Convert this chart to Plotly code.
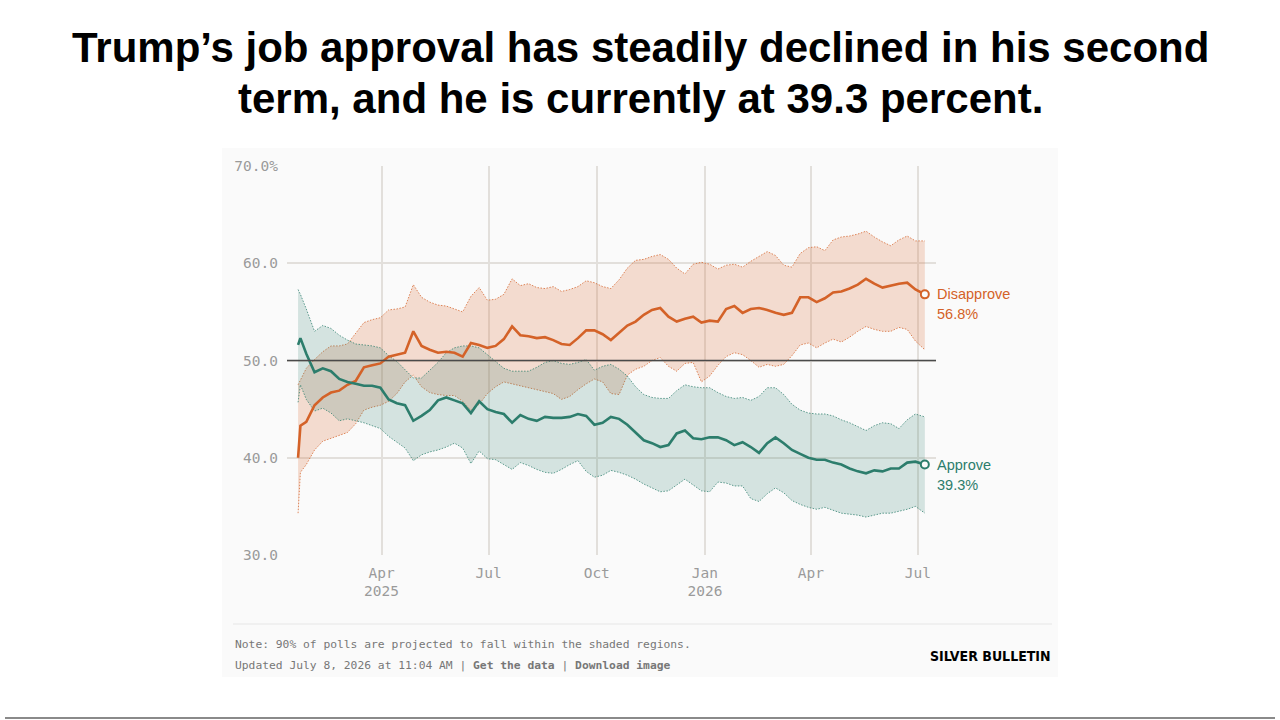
import pandas as pd
import plotly.graph_objects as go

# ---------------- data ----------------
weekly = pd.date_range("2025-01-20", periods=76, freq="7D")
dates = [weekly[0], pd.Timestamp("2025-01-22")] + list(weekly[1:]) + [pd.Timestamp("2026-07-07")]

disapprove = [40.0, 43.3, 43.7, 45.4, 46.2, 46.7, 46.9, 47.5, 47.9, 49.3, 49.5,
              49.7, 50.4, 50.6, 50.8, 53.0, 51.5, 51.1, 50.8, 50.9, 50.8,
              50.4, 51.8, 51.6, 51.3, 51.5, 52.2, 53.5, 52.6, 52.5, 52.3,
              52.4, 52.1, 51.7, 51.6, 52.3, 53.1, 53.1, 52.7, 52.1, 52.8,
              53.6, 54.0, 54.7, 55.2, 55.4, 54.5, 54.0, 54.3, 54.5, 53.9,
              54.1, 54.0, 55.3, 55.6, 54.9, 55.3, 55.4, 55.2, 54.9, 54.7,
              54.9, 56.5, 56.5, 56.0, 56.4, 57.0, 57.1, 57.4, 57.8, 58.4,
              57.9, 57.5, 57.7, 57.9, 58.0, 57.3, 56.8]
disapprove_hi = [47.5, 48.0, 49.2, 50.1, 50.9, 51.5, 51.5, 51.7, 52.8, 53.9, 54.2,
                 54.4, 55.2, 55.3, 55.5, 57.8, 56.5, 56.0, 55.7, 55.6, 55.3,
                 55.0, 56.6, 57.5, 56.2, 56.3, 56.8, 58.4, 57.7, 57.9, 57.5,
                 57.4, 57.6, 57.1, 57.3, 57.6, 58.2, 58.0, 57.6, 57.4, 58.3,
                 59.5, 60.3, 60.4, 60.7, 60.9, 60.4, 59.5, 58.9, 59.9, 60.1,
                 59.9, 59.4, 59.8, 59.9, 59.6, 60.2, 60.7, 61.2, 60.8, 59.8,
                 59.6, 61.0, 61.6, 61.7, 61.3, 62.4, 62.7, 62.8, 63.0, 63.3,
                 62.7, 62.2, 61.8, 62.4, 62.8, 62.3, 62.3]
disapprove_lo = [34.3, 38.5, 39.3, 40.8, 41.7, 42.0, 42.3, 42.6, 43.5, 44.9, 45.2,
                 45.4, 45.8, 46.6, 47.8, 48.5, 47.3, 46.7, 46.5, 46.4, 46.4,
                 45.8, 44.9, 45.5, 46.6, 47.3, 47.8, 47.6, 47.4, 47.2, 47.0,
                 46.8, 46.6, 46.0, 46.3, 47.0, 47.6, 48.1, 47.8, 46.6, 46.5,
                 48.5, 49.1, 49.4, 50.0, 50.3, 49.4, 48.9, 49.7, 49.8, 47.8,
                 48.4, 49.5, 50.4, 50.8, 50.6, 50.0, 49.3, 49.6, 49.4, 49.6,
                 50.5, 51.6, 51.8, 51.3, 51.8, 52.2, 51.9, 52.4, 53.0, 53.5,
                 53.2, 53.0, 53.0, 53.4, 53.2, 52.0, 51.1]
approve = [51.6, 52.3, 50.7, 48.8, 49.2, 48.9, 48.1, 47.8, 47.6, 47.4, 47.4,
           47.2, 46.0, 45.6, 45.4, 43.8, 44.3, 44.9, 45.9, 46.2, 45.9,
           45.6, 44.6, 45.8, 45.0, 44.7, 44.5, 43.6, 44.4, 44.0, 43.8,
           44.2, 44.1, 44.1, 44.2, 44.5, 44.3, 43.4, 43.6, 44.2, 44.0,
           43.4, 42.6, 41.8, 41.5, 41.1, 41.3, 42.5, 42.8, 42.0, 41.9,
           42.1, 42.1, 41.8, 41.3, 41.6, 41.1, 40.5, 41.5, 42.1, 41.5,
           40.8, 40.4, 40.0, 39.8, 39.8, 39.5, 39.3, 38.9, 38.6, 38.4,
           38.7, 38.6, 38.9, 38.9, 39.5, 39.6, 39.3]
approve_hi = [57.3, 56.8, 55.3, 53.0, 53.6, 53.3, 52.6, 52.1, 51.7, 51.6, 51.5,
              51.3, 50.5, 49.9, 49.0, 48.2, 48.2, 49.0, 49.8, 50.8, 51.3,
              51.5, 51.5, 51.3, 50.6, 49.9, 49.2, 48.9, 48.9, 48.9, 49.3,
              49.8, 50.0, 49.7, 49.6, 49.8, 50.1, 49.0, 49.4, 49.6, 49.1,
              48.4, 47.3, 46.5, 46.2, 46.1, 46.1, 46.9, 47.5, 47.3, 47.2,
              47.2, 46.7, 46.3, 46.1, 46.2, 45.9, 46.3, 47.2, 47.2, 46.5,
              45.5, 44.9, 44.6, 44.5, 44.5, 44.3, 43.9, 43.6, 43.2, 42.8,
              43.3, 43.6, 43.5, 43.0, 43.9, 44.5, 44.2]
approve_lo = [45.7, 47.5, 46.0, 44.8, 45.1, 44.6, 43.8, 44.0, 43.8, 43.6, 43.3,
              43.0, 42.2, 41.6, 41.0, 39.7, 40.3, 40.6, 40.8, 41.1, 41.5,
              41.0, 39.4, 40.7, 39.9, 39.8, 39.3, 38.8, 39.5, 39.2, 38.8,
              38.5, 38.4, 38.8, 39.3, 39.7, 38.6, 38.0, 38.2, 38.7, 38.5,
              38.2, 37.8, 37.3, 36.9, 36.5, 36.6, 37.2, 37.8, 37.2, 36.6,
              36.5, 37.5, 37.4, 37.1, 37.1, 35.8, 35.5, 36.3, 36.9, 36.4,
              35.6, 35.2, 34.9, 34.7, 34.9, 34.6, 34.3, 34.2, 34.1, 33.9,
              34.1, 34.3, 34.3, 34.5, 34.7, 35.0, 34.3]

tick_dates = ["2025-04-01", "2025-07-01", "2025-10-01", "2026-01-01", "2026-04-01", "2026-07-01"]
tick_text = ["Apr<br>2025", "Jul", "Oct", "Jan<br>2026", "Apr", "Jul"]
y_ticks = [30, 40, 50, 60, 70]
y_text = ["30.0", "40.0", "50.0", "60.0", "70.0%"]

title_lines = ["Trump\u2019s job approval has steadily declined in his second",
               "term, and he is currently at 39.3 percent."]

# ---------------- style ----------------
ORANGE = "rgb(212,98,40)"
TEAL = "rgb(44,125,108)"
ORANGE_FILL = "rgba(218,110,55,0.22)"
TEAL_FILL = "rgba(46,125,110,0.19)"
ORANGE_EDGE = "rgba(212,98,40,0.75)"
TEAL_EDGE = "rgba(44,125,108,0.75)"
MONO = "DejaVu Sans Mono"
TITLE_FONT = "Liberation Sans, Arial, sans-serif"
NARROW = "'Liberation Sans Narrow', 'Arial Narrow', 'DejaVu Sans Condensed', 'Liberation Sans', sans-serif"
CARD = "#fafafa"
EDGE_DASH = "1.5px,1.5px"

fig = go.Figure()

# bands
fig.add_trace(go.Scatter(x=dates, y=disapprove_hi, mode="lines",
                         line=dict(color=ORANGE_EDGE, width=1, dash=EDGE_DASH), hoverinfo="skip"))
fig.add_trace(go.Scatter(x=dates, y=disapprove_lo, mode="lines", fill="tonexty", fillcolor=ORANGE_FILL,
                         line=dict(color=ORANGE_EDGE, width=1, dash=EDGE_DASH), hoverinfo="skip"))
fig.add_trace(go.Scatter(x=dates, y=approve_hi, mode="lines",
                         line=dict(color=TEAL_EDGE, width=1, dash=EDGE_DASH), hoverinfo="skip"))
fig.add_trace(go.Scatter(x=dates, y=approve_lo, mode="lines", fill="tonexty", fillcolor=TEAL_FILL,
                         line=dict(color=TEAL_EDGE, width=1, dash=EDGE_DASH), hoverinfo="skip"))

# main lines
fig.add_trace(go.Scatter(x=dates, y=disapprove, mode="lines", line=dict(color=ORANGE, width=2.6)))
fig.add_trace(go.Scatter(x=dates, y=approve, mode="lines", line=dict(color=TEAL, width=2.6)))

# end markers
fig.add_trace(go.Scatter(x=[dates[-1]], y=[disapprove[-1]], mode="markers",
                         marker=dict(size=8, color=CARD, line=dict(color=ORANGE, width=2))))
fig.add_trace(go.Scatter(x=[dates[-1]], y=[approve[-1]], mode="markers",
                         marker=dict(size=8, color=CARD, line=dict(color=TEAL, width=2))))

# plot area pixel geometry: x 287..936, y 166..555
L, R, T, B = 287, 936, 166, 555
W, H = R - L, B - T
def px(xp):
    return (xp - L) / W
def py(yp):
    return (B - yp) / H

annotations = []
# title
for i, line in enumerate(title_lines):
    annotations.append(dict(text="<b>" + line + "</b>", x=px(640), y=py(48 + 51 * i), xref="paper", yref="paper",
                            xanchor="center", yanchor="middle", showarrow=False,
                            font=dict(family=TITLE_FONT, size=42, color="#000")))
# series labels
for name, vals, col in [("Disapprove", disapprove, ORANGE), ("Approve", approve, TEAL)]:
    annotations.append(dict(text=name, x=dates[-1], y=vals[-1], xref="x", yref="y",
                            xanchor="left", yanchor="middle", xshift=10, showarrow=False,
                            font=dict(family="Liberation Sans", size=14.5, color=col)))
    annotations.append(dict(text=f"{vals[-1]:.1f}%", x=dates[-1], y=vals[-1], xref="x", yref="y",
                            xanchor="left", yanchor="middle", xshift=10, yshift=-20, showarrow=False,
                            font=dict(family="Liberation Sans", size=14.5, color=col)))
# footer
annotations.append(dict(text="Note: 90% of polls are projected to fall within the shaded regions.",
                        x=px(233), y=py(644), xref="paper", yref="paper", xanchor="left", yanchor="middle",
                        showarrow=False, font=dict(family=MONO, size=11.3, color="#777")))
annotations.append(dict(text="Updated July 8, 2026 at 11:04 AM | <b>Get the data</b> | <b>Download image</b>",
                        x=px(233), y=py(665), xref="paper", yref="paper", xanchor="left", yanchor="middle",
                        showarrow=False, font=dict(family=MONO, size=11.3, color="#777")))
annotations.append(dict(text="<b>SILVER BULLETIN</b>", x=px(1053), y=py(656), xref="paper", yref="paper",
                        xanchor="right", yanchor="middle", showarrow=False,
                        font=dict(family=NARROW, size=14, color="#000")))

shapes = [
    dict(type="rect", xref="paper", yref="paper", x0=px(222), x1=px(1058), y0=py(677), y1=py(148),
         fillcolor=CARD, line=dict(width=0), layer="below"),
    dict(type="line", xref="paper", yref="y", x0=0, x1=1, y0=50, y1=50,
         line=dict(color="#4a4a4a", width=1.5), layer="above"),
    dict(type="line", xref="paper", yref="paper", x0=px(233), x1=px(1052), y0=py(624), y1=py(624),
         line=dict(color="#e6e6e6", width=1)),
    dict(type="line", xref="paper", yref="paper", x0=px(5), x1=px(1275), y0=py(718), y1=py(718),
         line=dict(color="#8a8a8a", width=2)),
]

fig.update_layout(
    width=1280, height=720,
    margin=dict(l=L, r=1280 - R, t=T, b=720 - B),
    paper_bgcolor="white", plot_bgcolor="rgba(0,0,0,0)",
    showlegend=False,
    annotations=annotations, shapes=shapes,
    xaxis=dict(type="date", range=["2025-01-10 14:00", "2026-07-16 12:00"],
               tickvals=tick_dates, ticktext=tick_text, showgrid=True, gridcolor="#e2dfdb", gridwidth=1.5,
               zeroline=False, showline=False, ticks="", ticklabelstandoff=7,
               tickfont=dict(family=MONO, size=14.5, color="#9a9a9a")),
    yaxis=dict(range=[30, 70], tickvals=y_ticks, ticktext=y_text, showgrid=True, gridcolor="#e2dfdb",
               gridwidth=1.5, zeroline=False, showline=False, ticks="", ticklabelstandoff=8,
               tickfont=dict(family=MONO, size=14.5, color="#9a9a9a")),
)

fig.write_html("out.html")
